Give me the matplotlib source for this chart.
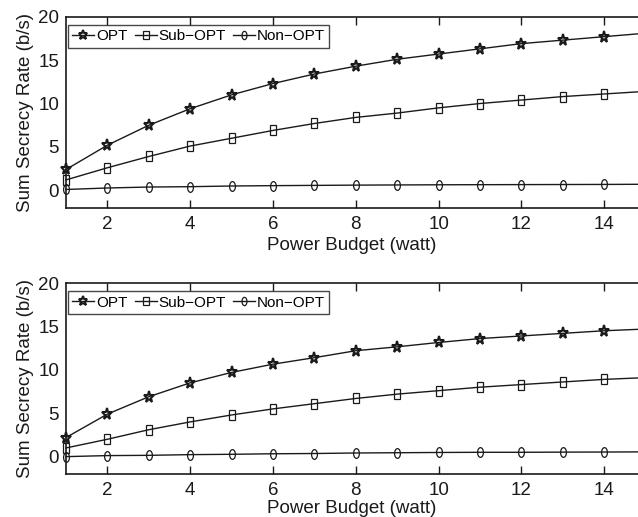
import matplotlib
matplotlib.use("Agg")
import matplotlib.pyplot as plt
from matplotlib.markers import MarkerStyle
from matplotlib.transforms import Affine2D

plt.rcParams['font.family'] = ['Liberation Sans', 'DejaVu Sans']

power = [1, 2, 3, 4, 5, 6, 7, 8, 9, 10, 11, 12, 13, 14, 15]

top_opt = [2.4, 5.2, 7.5, 9.4, 11.0, 12.3, 13.4, 14.3, 15.1, 15.7, 16.3, 16.9, 17.3, 17.7, 18.1]
top_sub = [1.2, 2.6, 3.9, 5.1, 6.0, 6.9, 7.7, 8.4, 8.9, 9.5, 10.0, 10.4, 10.8, 11.1, 11.4]
top_non = [0.1, 0.27, 0.38, 0.42, 0.5, 0.54, 0.57, 0.6, 0.62, 0.64, 0.65, 0.66, 0.67, 0.68, 0.7]

bot_opt = [2.2, 4.9, 6.9, 8.5, 9.7, 10.65, 11.4, 12.2, 12.65, 13.15, 13.6, 13.9, 14.2, 14.5, 14.7]
bot_sub = [1.0, 2.0, 3.1, 4.0, 4.8, 5.5, 6.1, 6.7, 7.2, 7.6, 8.0, 8.3, 8.6, 8.9, 9.1]
bot_non = [0.0, 0.12, 0.15, 0.23, 0.27, 0.33, 0.36, 0.42, 0.45, 0.48, 0.5, 0.5, 0.52, 0.53, 0.55]

labels = ['OPT', 'Sub\u2212OPT', 'Non\u2212OPT']
xticks = [2, 4, 6, 8, 10, 12, 14]
yticks = [0, 5, 10, 15, 20]

W, H = 638, 517
fig = plt.figure(figsize=(W / 100, H / 100), dpi=100)

col = '#1a1a1a'
star = MarkerStyle('*', fillstyle='none', transform=Affine2D().scale(0.85, 1.0))
sq = MarkerStyle('s', fillstyle='none', transform=Affine2D().scale(0.7, 1.0))
circ = MarkerStyle('o', fillstyle='none', transform=Affine2D().scale(0.6, 1.0))


def panel(rect, opt, sub, non, xlabelpad):
    ax = fig.add_axes(rect)
    ax.plot(power, opt, color=col, lw=1.0, marker=star, ms=9, mew=1.5,
            mec=col, clip_on=False, label=labels[0])
    ax.plot(power, sub, color=col, lw=1.0, marker=sq, ms=6.5, mew=0.9,
            mec=col, clip_on=False, label=labels[1])
    ax.plot(power, non, color=col, lw=1.0, marker=circ, ms=7, mew=0.9,
            mec=col, clip_on=False, label=labels[2])
    ax.set_xlim(1, 1 + 572 / 41.4)
    ax.set_ylim(-2, 20)
    ax.set_xticks(xticks)
    ax.set_yticks(yticks)
    ax.tick_params(axis='x', direction='in', top=True, length=6, width=1.0,
                   labelsize=13.5, pad=6, colors=col)
    ax.tick_params(axis='y', length=0, labelsize=13.5, pad=5, colors=col)
    ax.spines['right'].set_visible(False)
    for s in ['left', 'top', 'bottom']:
        ax.spines[s].set_linewidth(1.2)
        ax.spines[s].set_color(col)
    ax.set_ylabel('Sum Secrecy Rate (b/s)', fontsize=13.5, color=col, labelpad=3)
    ax.set_xlabel('Power Budget (watt)', fontsize=13.5, color=col, labelpad=xlabelpad)
    leg = ax.legend(loc='upper left', bbox_to_anchor=(0.0035, 0.9565),
                    ncol=3, fontsize=11, frameon=True,
                    fancybox=False, edgecolor=col, handlelength=1.45,
                    handletextpad=0.12, columnspacing=0.45, borderpad=0.28,
                    borderaxespad=0.0, markerscale=0.85)
    leg.get_frame().set_linewidth(1.0)
    return ax


h = 191.0 / H
panel([66 / W, 1 - 207.7 / H, 1 - 66 / W, h], top_opt, top_sub, top_non, 3)
panel([66 / W, 1 - 474.0 / H, 1 - 66 / W, h], bot_opt, bot_sub, bot_non, 0.5)

fig.savefig('out.png', dpi=100)
